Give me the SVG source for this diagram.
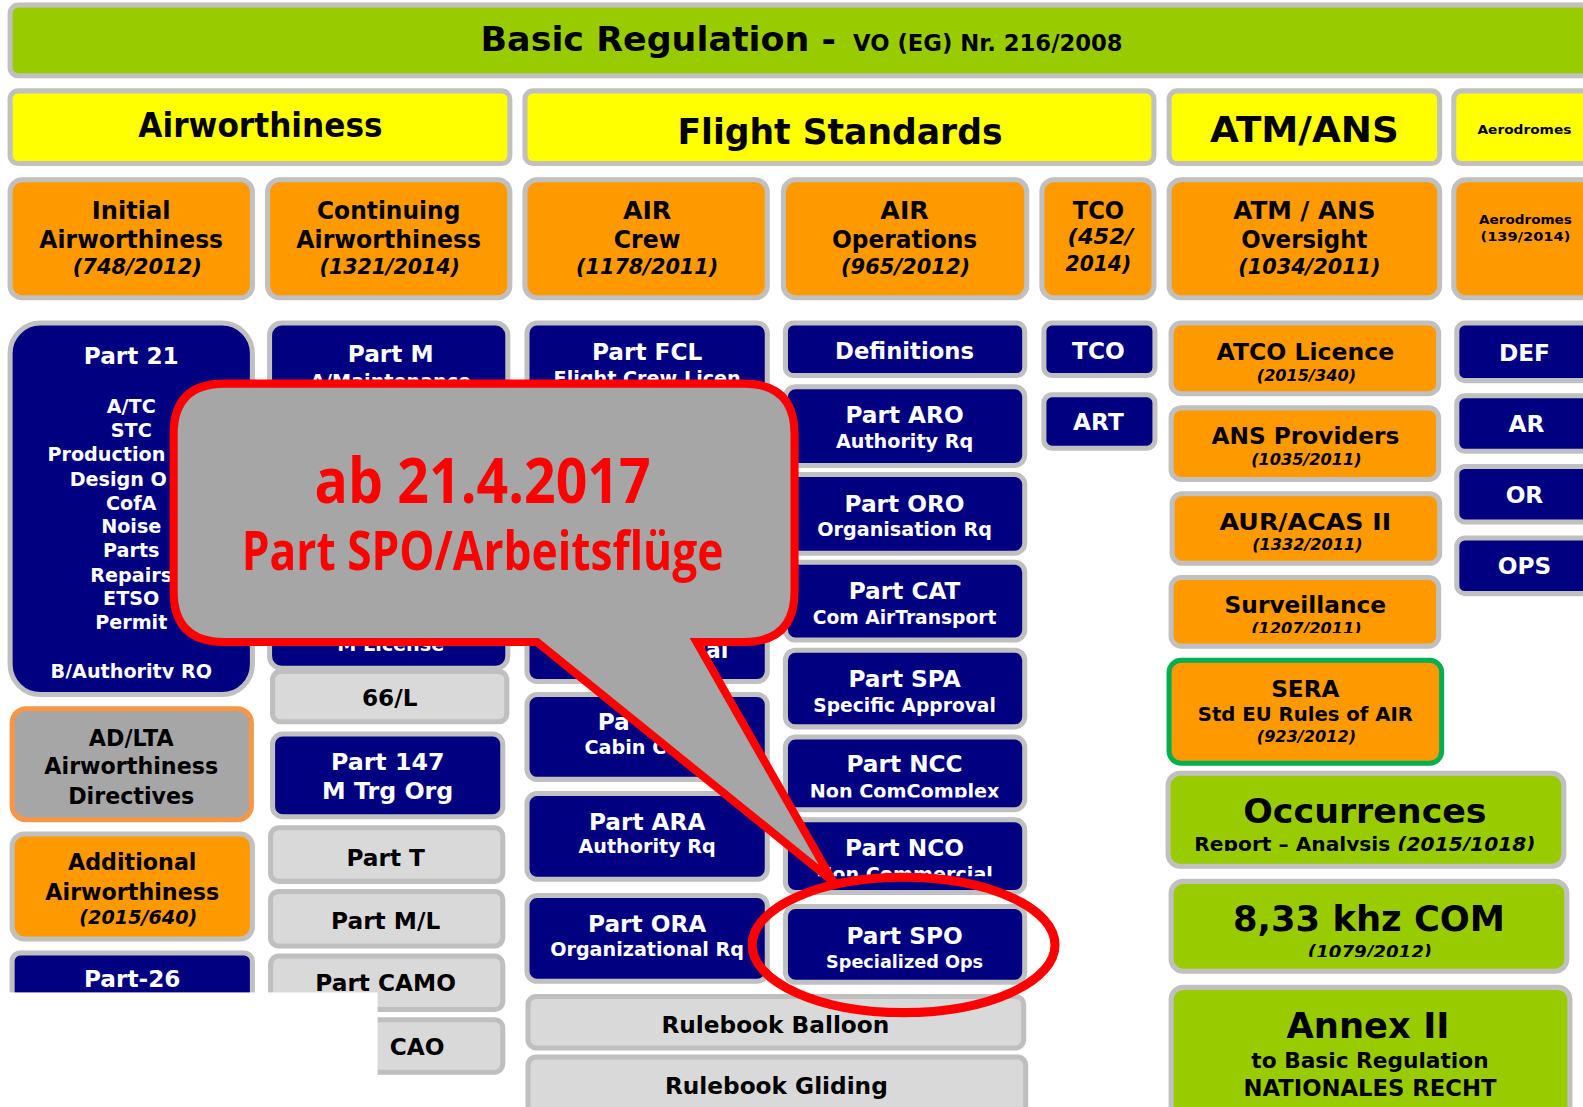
<svg xmlns="http://www.w3.org/2000/svg" width="1583" height="1107" viewBox="0 0 1583 1107">
<style>
.bx{stroke:#C0C0C0;stroke-width:5}
.blue{fill:#000080}
.org{fill:#FF9900}
.yel{fill:#FFFF00}
.grn{fill:#99CC00}
.lg{fill:#D9D9D9;stroke:#BFBFBF;stroke-width:5}
text{font-family:'DejaVu Sans',Verdana,sans-serif;font-weight:bold}
.w{fill:#FFFFFF}
.k{fill:#000000}
.c{text-anchor:middle}
.i{font-style:italic}
.t23{font-size:23px}
.t19{font-size:19px}
.t22{font-size:22px}
.call{font-family:'Open Sans','Noto Sans','Liberation Sans',sans-serif;fill:#FF0000;font-weight:bold}
</style>
<defs>
<clipPath id="c21" clipPathUnits="userSpaceOnUse"><rect x="10" y="320" width="240" height="352"/></clipPath>
<clipPath id="cNCC" clipPathUnits="userSpaceOnUse"><rect x="778" y="730" width="237" height="60"/></clipPath>
<clipPath id="cNCO" clipPathUnits="userSpaceOnUse"><rect x="778" y="812" width="237" height="56"/></clipPath>
<clipPath id="cSurv" clipPathUnits="userSpaceOnUse"><rect x="1160" y="572" width="265" height="55"/></clipPath>
<clipPath id="cOcc" clipPathUnits="userSpaceOnUse"><rect x="1157" y="766" width="392" height="77"/></clipPath>
<clipPath id="c833" clipPathUnits="userSpaceOnUse"><rect x="1160" y="873" width="392" height="75"/></clipPath>
</defs>
<rect x="0" y="0" width="1583" height="1107" fill="#FFFFFF"/>
<g transform="scale(1.00957)">
<g id="basic-regulation">
<rect class="bx grn" x="10" y="5" width="1600" height="70" rx="8"/>
<text class="k" x="476" y="51" font-size="33" textLength="352" lengthAdjust="spacingAndGlyphs">Basic Regulation -</text>
<text class="k" x="845" y="51" font-size="22" textLength="267" lengthAdjust="spacingAndGlyphs">VO (EG) Nr. 216/2008</text>
</g>
<g id="hdr-airworthiness">
<rect class="bx yel" x="10" y="90" width="495" height="72" rx="8"/>
<text class="k c" x="258" y="136" font-size="34" textLength="242" lengthAdjust="spacingAndGlyphs">Airworthiness</text>
</g>
<g id="hdr-flight-standards">
<rect class="bx yel" x="520" y="90" width="623" height="72" rx="8"/>
<text class="k c" x="832" y="143" font-size="36" textLength="322" lengthAdjust="spacingAndGlyphs">Flight Standards</text>
</g>
<g id="hdr-atm-ans">
<rect class="bx yel" x="1158" y="90" width="268" height="72" rx="8"/>
<text class="k c" x="1292" y="141" font-size="36" textLength="187" lengthAdjust="spacingAndGlyphs">ATM/ANS</text>
</g>
<g id="hdr-aerodromes">
<rect class="bx yel" x="1440" y="90" width="170" height="72" rx="8"/>
<text class="k c" x="1510" y="133" font-size="13" textLength="93" lengthAdjust="spacingAndGlyphs">Aerodromes</text>
</g>

<g id="initial-airworthiness">
<rect class="bx org" x="10" y="178" width="240" height="117" rx="12"/>
<text class="k c" x="130" y="217" font-size="24" textLength="78" lengthAdjust="spacingAndGlyphs">Initial</text>
<text class="k c" x="130" y="246" font-size="24" textLength="182" lengthAdjust="spacingAndGlyphs">Airworthiness</text>
<text class="k c i" x="136" y="271" font-size="21" textLength="128" lengthAdjust="spacingAndGlyphs">(748/2012)</text>
</g>
<g id="continuing-airworthiness">
<rect class="bx org" x="265" y="178" width="240" height="117" rx="12"/>
<text class="k c" x="385" y="217" font-size="24" textLength="142" lengthAdjust="spacingAndGlyphs">Continuing</text>
<text class="k c" x="385" y="246" font-size="24" textLength="183" lengthAdjust="spacingAndGlyphs">Airworthiness</text>
<text class="k c i" x="386" y="271" font-size="21" textLength="139" lengthAdjust="spacingAndGlyphs">(1321/2014)</text>
</g>
<g id="air-crew">
<rect class="bx org" x="520" y="178" width="240" height="117" rx="12"/>
<text class="k c" x="641" y="217" font-size="24" textLength="48" lengthAdjust="spacingAndGlyphs">AIR</text>
<text class="k c" x="641" y="246" font-size="24" textLength="66" lengthAdjust="spacingAndGlyphs">Crew</text>
<text class="k c i" x="641" y="271" font-size="21" textLength="141" lengthAdjust="spacingAndGlyphs">(1178/2011)</text>
</g>
<g id="air-operations">
<rect class="bx org" x="776" y="178" width="241" height="117" rx="12"/>
<text class="k c" x="896" y="217" font-size="24" textLength="48" lengthAdjust="spacingAndGlyphs">AIR</text>
<text class="k c" x="896" y="246" font-size="24" textLength="144" lengthAdjust="spacingAndGlyphs">Operations</text>
<text class="k c i" x="897" y="271" font-size="21" textLength="128" lengthAdjust="spacingAndGlyphs">(965/2012)</text>
</g>
<g id="tco-reg">
<rect class="bx org" x="1032" y="178" width="111" height="117" rx="12"/>
<text class="k c" x="1088" y="217" font-size="24" textLength="51" lengthAdjust="spacingAndGlyphs">TCO</text>
<text class="k c i" x="1090" y="242" font-size="21" textLength="65" lengthAdjust="spacingAndGlyphs">(452/</text>
<text class="k c i" x="1088" y="268" font-size="21" textLength="65" lengthAdjust="spacingAndGlyphs">2014)</text>
</g>
<g id="atm-ans-oversight">
<rect class="bx org" x="1158" y="178" width="268" height="117" rx="12"/>
<text class="k c" x="1292" y="217" font-size="24" textLength="141" lengthAdjust="spacingAndGlyphs">ATM / ANS</text>
<text class="k c" x="1292" y="246" font-size="24" textLength="125" lengthAdjust="spacingAndGlyphs">Oversight</text>
<text class="k c i" x="1297" y="271" font-size="21" textLength="141" lengthAdjust="spacingAndGlyphs">(1034/2011)</text>
</g>
<g id="aerodromes-reg">
<rect class="bx org" x="1440" y="178" width="170" height="117" rx="12"/>
<text class="k c" x="1511" y="222" font-size="13" textLength="92" lengthAdjust="spacingAndGlyphs">Aerodromes</text>
<text class="k c" x="1511" y="239" font-size="13" textLength="89" lengthAdjust="spacingAndGlyphs">(139/2014)</text>
</g>

<g id="part-21">
<rect class="bx blue" x="10" y="320" width="240" height="368" rx="30"/>
<text class="w c t23" x="130" y="361">Part 21</text>
<text class="w c t19" x="130" y="409">A/TC</text>
<text class="w c t19" x="130" y="433">STC</text>
<text class="w t19" x="47" y="457">Production</text>
<text class="w t19" x="69" y="481">Design O</text>
<text class="w c t19" x="130" y="505">CofA</text>
<text class="w c t19" x="130" y="528">Noise</text>
<text class="w c t19" x="130" y="552">Parts</text>
<text class="w c t19" x="130" y="576">Repairs</text>
<text class="w c t19" x="130" y="599">ETSO</text>
<text class="w c t19" x="130" y="623">Permit</text>
<text class="w c t19" x="130" y="672" clip-path="url(#c21)">B/Authority RQ</text>
</g>
<g id="ad-lta">
<rect x="12" y="702" width="237" height="110" rx="14" fill="#A6A6A6" stroke="#F79646" stroke-width="5"/>
<text class="k c" x="130" y="739" font-size="22">AD/LTA</text>
<text class="k c" x="130" y="767" font-size="22">Airworthiness</text>
<text class="k c" x="130" y="796" font-size="22">Directives</text>
</g>
<g id="additional-airworthiness">
<rect class="bx org" x="12" y="826" width="238" height="104" rx="12"/>
<text class="k c" x="131" y="862" font-size="22">Additional</text>
<text class="k c" x="131" y="891" font-size="22">Airworthiness</text>
<text class="k c i" x="137" y="915" font-size="19">(2015/640)</text>
</g>
<g id="part-26">
<rect class="bx blue" x="12" y="944" width="238" height="80" rx="8"/>
<text class="w c t23" x="131" y="978">Part-26</text>
</g>

<g id="part-m">
<rect class="bx blue" x="267" y="320" width="236" height="342" rx="12"/>
<text class="w c t23" x="387" y="359">Part M</text>
<text class="w c t19" x="387" y="384">A/Maintenance</text>
<text class="w c t19" x="387" y="645">M License</text>
</g>
<g id="66-l">
<rect class="lg" x="270" y="665" width="232" height="50" rx="8"/>
<text class="k c t23" x="386" y="699">66/L</text>
</g>
<g id="part-147">
<rect class="bx blue" x="270" y="727" width="228" height="82" rx="10"/>
<text class="w c" x="384" y="763" font-size="23.5">Part 147</text>
<text class="w c" x="384" y="791" font-size="23.5">M Trg Org</text>
</g>
<g id="part-t">
<rect class="lg" x="268" y="820" width="230" height="53" rx="8"/>
<text class="k c t23" x="382" y="858">Part T</text>
</g>
<g id="part-ml">
<rect class="lg" x="268" y="883" width="230" height="54" rx="8"/>
<text class="k c t23" x="382" y="920">Part M/L</text>
</g>
<g id="part-camo">
<rect class="lg" x="268" y="947" width="230" height="53" rx="8"/>
<text class="k c t23" x="382" y="982">Part CAMO</text>
</g>
<g id="part-cao">
<rect class="lg" x="268" y="1010" width="230" height="52" rx="8"/>
<text class="k t23" x="386" y="1045">CAO</text>
</g>

<g id="part-fcl">
<rect class="bx blue" x="522" y="320" width="238" height="355" rx="10"/>
<text class="w c t23" x="641" y="357">Part FCL</text>
<text class="w c t19" x="641" y="381">Flight Crew Licen</text>
<text class="w t22" x="686" y="652">cal</text>
</g>
<g id="part-cc">
<rect class="bx blue" x="522" y="688" width="238" height="84" rx="10"/>
<text class="w t23" x="592" y="723">Pa</text>
<text class="w t19" x="579" y="747">Cabin C</text>
</g>
<g id="part-ara">
<rect class="bx blue" x="522" y="786" width="238" height="85" rx="10"/>
<text class="w c t23" x="641" y="822">Part ARA</text>
<text class="w c t19" x="641" y="845">Authority Rq</text>
</g>
<g id="part-ora">
<rect class="bx blue" x="522" y="887" width="238" height="85" rx="10"/>
<text class="w c t23" x="641" y="923">Part ORA</text>
<text class="w c t19" x="641" y="947">Organizational Rq</text>
</g>
<g id="rulebook-balloon">
<rect class="lg" x="523" y="987" width="491" height="51" rx="8"/>
<text class="k c t23" x="768" y="1023">Rulebook Balloon</text>
</g>
<g id="rulebook-gliding">
<rect class="lg" x="523" y="1047" width="493" height="75" rx="8"/>
<text class="k c t23" x="769" y="1084">Rulebook Gliding</text>
</g>

<g id="definitions">
<rect class="bx blue" x="778" y="320" width="237" height="52" rx="8"/>
<text class="w c" x="896" y="356" font-size="22.5">Definitions</text>
</g>
<g id="part-aro">
<rect class="bx blue" x="778" y="383" width="237" height="78" rx="10"/>
<text class="w c t23" x="896" y="419">Part ARO</text>
<text class="w c t19" x="896" y="444">Authority Rq</text>
</g>
<g id="part-oro">
<rect class="bx blue" x="778" y="470" width="237" height="78" rx="10"/>
<text class="w c t23" x="896" y="507">Part ORO</text>
<text class="w c t19" x="896" y="531">Organisation Rq</text>
</g>
<g id="part-cat">
<rect class="bx blue" x="778" y="557" width="237" height="77" rx="10"/>
<text class="w c t23" x="896" y="593">Part CAT</text>
<text class="w c" x="896" y="618" font-size="18.5">Com AirTransport</text>
</g>
<g id="part-spa">
<rect class="bx blue" x="778" y="644" width="237" height="76" rx="10"/>
<text class="w c t23" x="896" y="680">Part SPA</text>
<text class="w c" x="896" y="705" font-size="18.5">Specific Approval</text>
</g>
<g id="part-ncc">
<rect class="bx blue" x="778" y="730" width="237" height="72" rx="10"/>
<text class="w c t23" x="896" y="765">Part NCC</text>
<text class="w c t19" x="896" y="790" clip-path="url(#cNCC)">Non ComComplex</text>
</g>
<g id="part-nco">
<rect class="bx blue" x="778" y="812" width="237" height="72" rx="10"/>
<text class="w c t23" x="896" y="848">Part NCO</text>
<text class="w c t19" x="896" y="873" clip-path="url(#cNCO)">Non Commercial</text>
</g>
<g id="part-spo">
<rect class="bx blue" x="778" y="898" width="237" height="75" rx="10"/>
<text class="w c t23" x="896" y="935">Part SPO</text>
<text class="w c" x="896" y="959" font-size="17.5">Specialized Ops</text>
</g>

<g id="tco">
<rect class="bx blue" x="1034" y="320" width="110" height="52" rx="8"/>
<text class="w c t23" x="1088" y="356">TCO</text>
</g>
<g id="art">
<rect class="bx blue" x="1034" y="391" width="110" height="53" rx="8"/>
<text class="w c t23" x="1088" y="426">ART</text>
</g>

<g id="atco-licence">
<rect class="bx org" x="1160" y="320" width="265" height="70" rx="10"/>
<text class="k c" x="1293" y="357" font-size="22" textLength="176" lengthAdjust="spacingAndGlyphs">ATCO Licence</text>
<text class="k c i" x="1294" y="377" font-size="16">(2015/340)</text>
</g>
<g id="ans-providers">
<rect class="bx org" x="1160" y="404" width="265" height="71" rx="10"/>
<text class="k c" x="1293" y="440" font-size="22" textLength="186" lengthAdjust="spacingAndGlyphs">ANS Providers</text>
<text class="k c i" x="1294" y="461" font-size="16">(1035/2011)</text>
</g>
<g id="aur-acas">
<rect class="bx org" x="1161" y="489" width="265" height="69" rx="10"/>
<text class="k c" x="1293" y="525" font-size="22" textLength="170" lengthAdjust="spacingAndGlyphs">AUR/ACAS II</text>
<text class="k c i" x="1295" y="545" font-size="16">(1332/2011)</text>
</g>
<g id="surveillance">
<rect class="bx org" x="1160" y="572" width="265" height="68" rx="10"/>
<text class="k c" x="1293" y="607" font-size="22" textLength="160" lengthAdjust="spacingAndGlyphs">Surveillance</text>
<text class="k c i" x="1294" y="628" font-size="16" clip-path="url(#cSurv)">(1207/2011)</text>
</g>
<g id="sera">
<rect x="1158" y="654" width="270" height="102" rx="12" fill="#FF9900" stroke="#00B050" stroke-width="5"/>
<text class="k c" x="1293" y="690" font-size="23">SERA</text>
<text class="k c" x="1293" y="714" font-size="19.5">Std EU Rules of AIR</text>
<text class="k c i" x="1294" y="735" font-size="16">(923/2012)</text>
</g>
<g id="occurrences">
<rect class="bx grn" x="1157" y="766" width="392" height="92" rx="12"/>
<text class="k c" x="1352" y="815" font-size="34" textLength="241" lengthAdjust="spacingAndGlyphs">Occurrences</text>
<text class="k c" x="1352" y="843" font-size="20" clip-path="url(#cOcc)">Report – Analysis <tspan class="i">(2015/1018)</tspan></text>
</g>
<g id="833-com">
<rect class="bx grn" x="1160" y="873" width="392" height="89" rx="12"/>
<text class="k c" x="1356" y="922" font-size="35">8,33 khz COM</text>
<text class="k c i" x="1357" y="949" font-size="18" clip-path="url(#c833)">(1079/2012)</text>
</g>
<g id="annex-ii">
<rect class="bx grn" x="1160" y="978" width="395" height="140" rx="12"/>
<text class="k c" x="1355" y="1028" font-size="35">Annex II</text>
<text class="k c" x="1357" y="1058" font-size="21.5">to Basic Regulation</text>
<text class="k c" x="1357" y="1086" font-size="22.5">NATIONALES RECHT</text>
</g>

<g id="def">
<rect class="bx blue" x="1443" y="320" width="170" height="57" rx="8"/>
<text class="w c t23" x="1510" y="358">DEF</text>
</g>
<g id="ar">
<rect class="bx blue" x="1443" y="392" width="170" height="55" rx="8"/>
<text class="w c t23" x="1512" y="428">AR</text>
</g>
<g id="or">
<rect class="bx blue" x="1443" y="462" width="170" height="55" rx="8"/>
<text class="w c t23" x="1510" y="498">OR</text>
</g>
<g id="ops">
<rect class="bx blue" x="1443" y="533" width="170" height="55" rx="8"/>
<text class="w c t23" x="1510" y="569">OPS</text>
</g>

<rect id="white-cover" x="-5" y="983" width="379" height="140" fill="#FFFFFF"/>

<g id="connectors"></g>

<g id="callout">
<path d="M 222 380 H 737 Q 787 380 787 430 V 586 Q 787 636 737 636 H 690 L 825 873 L 532 636 H 222 Q 172 636 172 586 V 430 Q 172 380 222 380 Z" fill="#A6A6A6" stroke="#FF0000" stroke-width="8" stroke-linejoin="miter"/>
<text class="call c" x="478" y="498" font-size="62" textLength="333" lengthAdjust="spacingAndGlyphs">ab 21.4.2017</text>
<text class="call c" x="478" y="565" font-size="54" textLength="477" lengthAdjust="spacingAndGlyphs">Part SPO/Arbeitsflüge</text>
</g>
<g id="highlight-ellipse">
<ellipse cx="895" cy="936" rx="150" ry="67" fill="none" stroke="#FF0000" stroke-width="9"/>
</g>
</g>
</svg>
